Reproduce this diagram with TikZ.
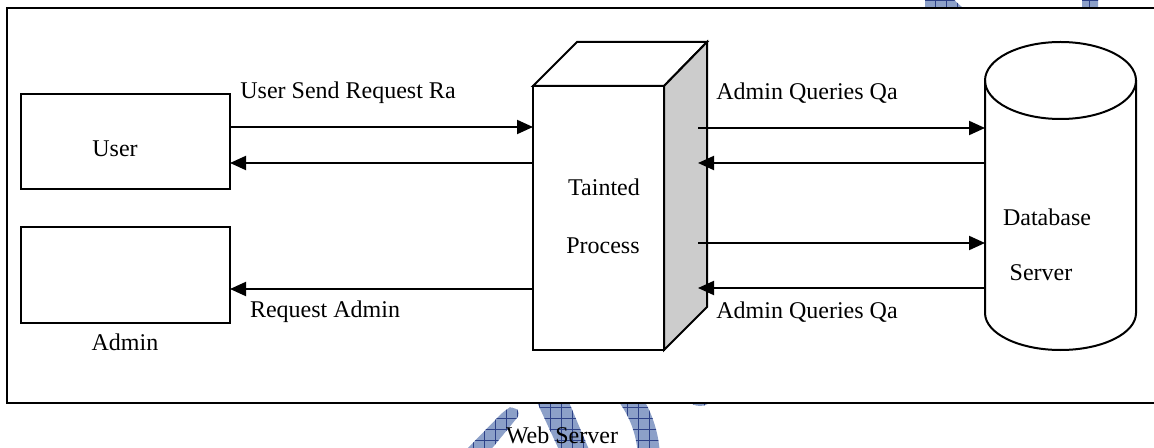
\documentclass[tikz,border=0pt]{standalone}
\usepackage{fontspec}
\setmainfont{Liberation Serif}
\usetikzlibrary{arrows.meta}
\definecolor{wmfill}{RGB}{140,160,200}
\definecolor{wmline}{RGB}{45,65,135}
\definecolor{sidegray}{RGB}{204,204,204}
\newcommand\wmpatch{%
  \fill[wmfill] (380,-10) rectangle (1154,460);
  \draw[wmline, line width=0.4pt, step=5.5pt] (380,-10) grid (1154,460);}
\begin{document}
\begin{tikzpicture}[x=0.5pt,y=-0.5pt,
  line/.style={line width=1pt},
  conn/.style={line width=1pt, -{Triangle[length=8pt,width=7pt]}},
  box/.style={draw, line width=1pt, minimum width=104.5pt, minimum height=47.5pt, inner sep=0pt, outer sep=0pt},
  lbl/.style={font=\fontsize{12}{14}\selectfont, inner sep=0pt},
  ]
\useasboundingbox (0,0) rectangle (1154,448);
\clip (0,0) rectangle (1154,448);
% watermark fragments
\begin{scope}
  \clip[rounded corners=3pt] (464,452) -- (505,410) -- (513,406) -- (521,413) -- (489,452) -- cycle;
  \wmpatch
\end{scope}
\begin{scope}
  \clip (536,400) -- (568,400) -- (590,452) -- (560,452) -- cycle;
  \wmpatch
\end{scope}
\begin{scope}
  \clip (540,460) ++(-40:120) arc[start angle=-40, end angle=5, radius=120]
        -- ++(-22,-2) arc[start angle=5, end angle=-40, radius=98] -- cycle;
  \wmpatch
\end{scope}
\begin{scope}
  \clip (700,399) ellipse[x radius=11, y radius=7];
  \wmpatch
\end{scope}
\begin{scope}
  \clip (925,-2) -- (952,-2) -- (964,9) -- (925,9) -- cycle;
  \wmpatch
\end{scope}
\begin{scope}
  \clip (1082,-2) rectangle (1098,9);
  \wmpatch
\end{scope}
% outer frame
\draw[line, fill=white] (7,8) rectangle (1190,403);
% user and admin boxes
\node[box] (user) at (125.5,141.5) {};
\node[box] (admin) at (125.5,275) {};
\node[lbl] (usertxt) at (115,149) {User};
\node[lbl] (admintxt) at (125,342) {Admin};
% tainted process block
\node[draw, line width=1pt, fill=white, minimum width=65.5pt, minimum height=132pt, inner sep=0pt, outer sep=0pt] (proc) at (598.5,218) {};
\draw[line, fill=white] (proc.north west) -- ++(44,-44) -- ++(130,0) -- (proc.north east) -- cycle;
\draw[line, fill=sidegray] (proc.north east) -- ++(43,-44) -- ++(0,265) -- (proc.south east) -- cycle;
\node[lbl] (t1) at (604,187) {Tainted};
\node[lbl] (t2) at (603,246) {Process};
% database cylinder
\draw[line, fill=white] (985,80.5) -- (985,313) arc[start angle=180, end angle=0, x radius=75.5, y radius=37]
   -- (1136,80.5) arc[start angle=0, end angle=-180, x radius=75.5, y radius=38.5] -- cycle;
\draw[line] (985,80.5) arc[start angle=180, end angle=0, x radius=75.5, y radius=38.5];
\node[inner sep=0pt, outer sep=0pt, minimum width=75.5pt, minimum height=154pt] (db) at (1060.5,196) {};
\node[lbl] (d1) at (1047,217) {Database};
\node[lbl] (d2) at (1041,273) {Server};
% rows
\coordinate (r1) at (0,127);
\coordinate (r2) at (0,163);
\coordinate (r3) at (0,289);
\coordinate (q1) at (0,128);
\coordinate (q2) at (0,163);
\coordinate (q3) at (0,243);
\coordinate (q4) at (0,288);
\coordinate (sidex) at (698,0);
% connectors
\draw[conn] (user.east |- r1) -- (proc.west |- r1);
\draw[conn] (proc.west |- r2) -- (user.east |- r2);
\draw[conn] (proc.west |- r3) -- (admin.east |- r3);
\draw[conn] (sidex |- q1) -- (db.west |- q1);
\draw[conn] (db.west |- q2) -- (sidex |- q2);
\draw[conn] (sidex |- q3) -- (db.west |- q3);
\draw[conn] (db.west |- q4) -- (sidex |- q4);
% labels
\node[lbl] (l1) at (348,93) {User Send Request Ra};
\node[lbl] (l2) at (325,312) {Request Admin};
\node[lbl] (l3) at (807,93) {Admin Queries Qa};
\node[lbl] (l4) at (807,312) {Admin Queries Qa};
\node[lbl] (ws) at (562,435) {Web Server};
\end{tikzpicture}
\end{document}
